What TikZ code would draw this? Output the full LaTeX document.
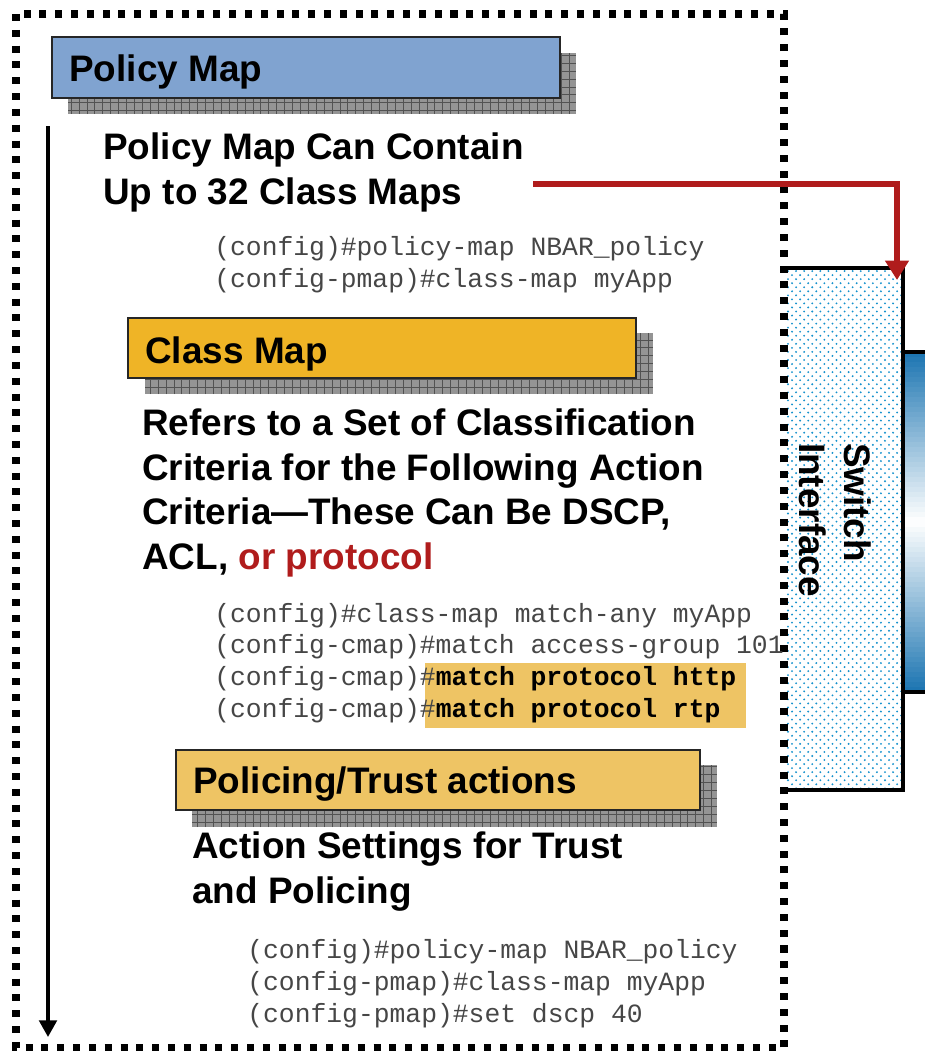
\documentclass[tikz,border=0pt]{standalone}
\usepackage{fontspec}
\setmainfont{Liberation Sans}
\setmonofont{Liberation Mono}
\usetikzlibrary{arrows.meta,patterns.meta}
\definecolor{policyblue}{RGB}{128,163,208}
\definecolor{classgold}{RGB}{239,180,38}
\definecolor{actiongold}{RGB}{238,196,100}
\definecolor{hilite}{RGB}{238,196,100}
\definecolor{arrowred}{RGB}{176,28,28}
\definecolor{dotblue}{RGB}{20,145,205}
\definecolor{barblue}{RGB}{30,118,178}
\definecolor{codegray}{RGB}{70,70,70}
\def\gridshadow(#1)(#2){\fill[black!42] (#1) rectangle (#2); \draw[black!68, line width=0.5pt, step=4.5pt] (#1) grid (#2);}

\begin{document}
\begin{tikzpicture}[x=0.02cm, y=-0.02cm,
	headbox/.style={draw=black!85, line width=0.6pt},
	headtext/.style={anchor=base west, inner sep=0pt, font=\fontsize{21}{25.3}\selectfont\bfseries},
	bodytext/.style={anchor=base west, inner sep=0pt, align=left, font=\fontsize{21}{25.3}\selectfont\bfseries},
	codetext/.style={anchor=base west, inner sep=0pt, align=left, text=codegray, font=\fontsize{15}{18}\selectfont\ttfamily},
	frame/.style={line width=4pt, dash pattern=on 4pt off 5pt},
	flowarrow/.style={line width=2pt, -{Triangle[length=9.5pt, width=10pt]}},
	redarrow/.style={arrowred, line width=3.4pt, -{Triangle[length=11pt, width=13pt]}}]
	\useasboundingbox (0,0) rectangle (925,1051);
	%%%%% SWITCH INTERFACE %%%%%
	\fill[white] (785,268) rectangle (903,790);
	\fill[pattern={Dots[distance=4.6pt, radius=0.6pt]}, pattern color=dotblue] (785,268) rectangle (903,790);
	\fill[pattern={Dots[distance=4.6pt, radius=0.6pt, xshift=2.3pt, yshift=2.3pt]}, pattern color=dotblue] (785,268) rectangle (903,790);
	\foreach \k in {0,...,67} {
		\pgfmathsetmacro\mix{abs(\k-33.5)/33.5*100}
		\fill[barblue!\mix!white] (905,352+5*\k) rectangle (935,357.5+5*\k);
	}
	\draw[line width=2.6pt] (903,352) -- (935,352);
	\draw[line width=2.6pt] (903,692) -- (935,692);
	\draw[line width=2.8pt] (785,268) -- (903,268) -- (903,790) -- (785,790);
	\node[rotate=-90, align=left, inner sep=0pt, font=\fontsize{21}{25.3}\selectfont\bfseries] (switchlbl) at (835,520) {Switch\\Interface};
	
	%%%%% FRAME %%%%%
	\draw[frame] (16,14) rectangle (784,1048);
	
	%%%%% POLICY MAP %%%%%
	\gridshadow(68,114)(576,53);
	\draw[headbox, fill=policyblue] (52,37) rectangle (560,98);
	\node[headtext] (policyhead) at (69,82) {Policy Map};
	\node[bodytext] (policybody) at (103,204) {Policy Map Can Contain\\Up to 32 Class Maps};
	\node[codetext] (policycode) at (214,287) {(config)\#policy-map NBAR\_policy\\(config-pmap)\#class-map myApp};
	
	%%%%% CLASS MAP %%%%%
	\gridshadow(145,394)(653,333);
	\draw[headbox, fill=classgold] (128,318) rectangle (636,378);
	\node[headtext] (classhead) at (145,363) {Class Map};
	\node[bodytext] (classbody) at (142,569) {Refers to a Set of Classification\\Criteria for the Following Action\\Criteria—These Can Be DSCP,\\ACL, \textcolor{arrowred}{or protocol}};
	\fill[hilite] (425,663) rectangle (746,728);
	\node[codetext] (classcode) at (214,717) {(config)\#class-map match-any myApp\\(config-cmap)\#match access-group 101\\(config-cmap)\#\textbf{\color{black}match protocol http}\\(config-cmap)\#\textbf{\color{black}match protocol rtp}};
	
	%%%%% POLICING / TRUST %%%%%
	\gridshadow(192,827)(717,765);
	\draw[headbox, fill=actiongold] (176,750) rectangle (700,810);
	\node[headtext] (actionhead) at (193,793) {Policing/Trust actions};
	\node[bodytext] (actionbody) at (192,903) {Action Settings for Trust\\and Policing};
	\node[codetext] (actioncode) at (247,1022) {(config)\#policy-map NBAR\_policy\\(config-pmap)\#class-map myApp\\(config-pmap)\#set dscp 40};
	
	%%%%% ARROWS %%%%%
	\coordinate (flowtop) at (48,126);
	\coordinate (flowend) at (48,1037);
	\draw[flowarrow] (flowtop) -- (flowend);
	\coordinate (redstart) at (533,184);
	\coordinate (swentry) at (897,280);
	\draw[redarrow] (redstart) -| (swentry);
\end{tikzpicture}
\end{document}
